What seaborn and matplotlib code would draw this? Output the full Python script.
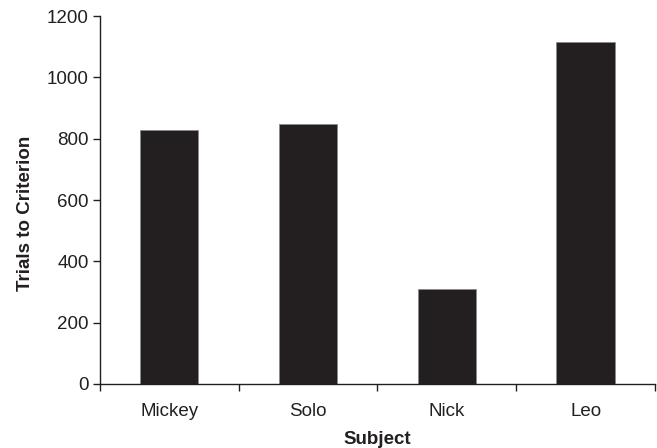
import matplotlib
matplotlib.use("Agg")
import matplotlib.pyplot as plt
import seaborn as sns
import pandas as pd
import numpy as np

subjects = ["Mickey", "Solo", "Nick", "Leo"]
trials = [830, 847, 310, 1114]
y_ticks = [0, 200, 400, 600, 800, 1000, 1200]

sns.set_style("white")
plt.rcParams['font.family'] = ['Liberation Sans', 'DejaVu Sans']

df = pd.DataFrame({"Subject": subjects, "Trials": trials})

fig = plt.figure(figsize=(6.57, 4.48), dpi=100)
ax = fig.add_axes([0.152, 0.143, 0.845, 0.821])
sns.barplot(data=df, x="Subject", y="Trials", color="#231f20", width=0.42,
            saturation=1, ax=ax, edgecolor="#8a8a8a", linewidth=0.6)

fs = 13.5
ax.set_xlim(-0.5, len(subjects) - 0.5)
ax.set_ylim(0, 1200)
ax.set_yticks(y_ticks)
ax.set_yticklabels([str(v) for v in y_ticks], fontsize=fs, color="#231f20")
ax.set_xticks(range(len(subjects)))
ax.set_xticklabels(subjects, fontsize=fs, color="#231f20")
ax.set_xticks(np.arange(-0.5, len(subjects)), minor=True)
ax.tick_params(axis="x", which="major", length=0, pad=14)
ax.tick_params(axis="x", which="minor", length=5, width=1, color="#231f20", direction="out", bottom=True)
ax.tick_params(axis="y", length=5, width=1, color="#231f20", direction="out", left=True, pad=3)

for s in ["top", "right"]:
    ax.spines[s].set_visible(False)
for s in ["left", "bottom"]:
    ax.spines[s].set_color("#231f20")
    ax.spines[s].set_linewidth(1)

ax.set_xlabel("Subject", fontsize=fs, fontweight="bold", color="#231f20", labelpad=8)
ax.set_ylabel("Trials to Criterion", fontsize=fs, fontweight="bold", color="#231f20", labelpad=9)
ax.yaxis.label.set_y(0.465)

fig.savefig("out.png", dpi=100)
